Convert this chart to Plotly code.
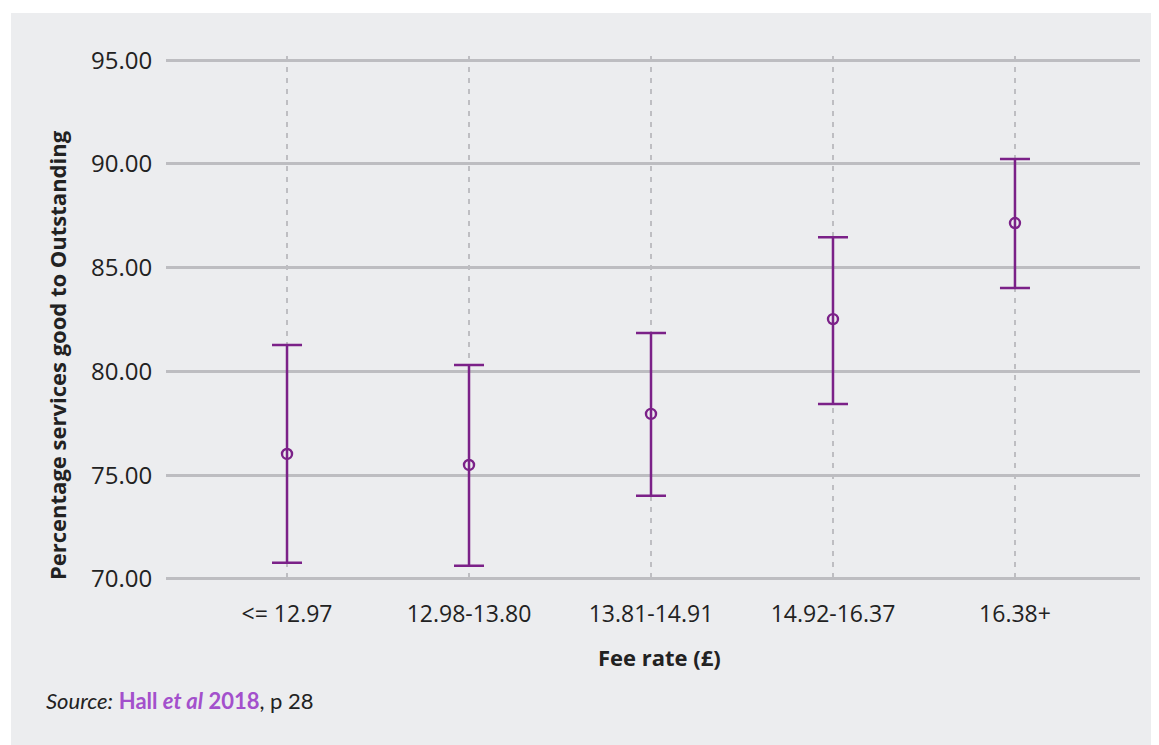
import plotly.graph_objects as go

categories = ["<= 12.97", "12.98-13.80", "13.81-14.91", "14.92-16.37", "16.38+"]
means = [76.02, 75.49, 77.95, 82.52, 87.15]
upper = [81.27, 80.31, 81.85, 86.47, 90.23]
lower = [70.77, 70.63, 74.00, 78.43, 84.02]
y_ticks = [70, 75, 80, 85, 90, 95]
y_ticklabels = ["70.00", "75.00", "80.00", "85.00", "90.00", "95.00"]

err_plus = [u - m for u, m in zip(upper, means)]
err_minus = [m - l for m, l in zip(means, lower)]

PURPLE = "#7B2188"
BG = "#ECEDEF"
OFF = 8  # page body margin
W, H = 1159 - OFF, 745 - OFF
L, R, T, B = 158, 19, 48, 162
pw, ph = W - L - R, H - T - B

fig = go.Figure()
fig.add_trace(go.Scatter(
    x=list(range(len(categories))), y=means, mode="markers",
    marker=dict(symbol="circle-open", size=10, color=PURPLE, line=dict(width=2.4, color=PURPLE)),
    error_y=dict(type="data", symmetric=False, array=err_plus, arrayminus=err_minus,
                 color=PURPLE, thickness=2.5, width=15),
    showlegend=False, hoverinfo="skip",
))

def px(x):
    return (x - OFF - L) / pw

def py(y):
    return (H - B - (y - OFF)) / ph

fig.add_shape(type="rect", xref="paper", yref="paper",
              x0=px(11), x1=px(1180), y0=py(13), y1=py(780),
              fillcolor=BG, line=dict(width=0), layer="below")

fig.update_layout(
    width=W, height=H,
    margin=dict(l=L, r=R, t=T, b=B),
    paper_bgcolor="white", plot_bgcolor=BG,
    font=dict(family="Open Sans", color="#222222"),
    xaxis=dict(
        range=[-0.665, 4.687],
        tickmode="array", tickvals=list(range(len(categories))), ticktext=categories,
        tickfont=dict(size=23, family="Open Sans", color="#222222"),
        showgrid=True, gridcolor="#BEBEC2", griddash="5px,6px", gridwidth=1.5,
        zeroline=False, showline=False,
        ticks="outside", ticklen=10, tickcolor="rgba(0,0,0,0)",
    ),
    yaxis=dict(
        range=[69.8, 95.2],
        tickmode="array", tickvals=y_ticks, ticktext=y_ticklabels,
        tickfont=dict(size=24, family="Open Sans", color="#222222"),
        showgrid=True, gridcolor="#BDBDC1", gridwidth=3,
        zeroline=False, showline=False,
        ticks="outside", ticklen=8, tickcolor="rgba(0,0,0,0)",
    ),
)

fig.add_annotation(
    text="<b>Percentage services good to Outstanding</b>",
    xref="paper", yref="paper", x=px(57), y=py(355),
    textangle=-90, showarrow=False, xanchor="center", yanchor="middle",
    font=dict(size=22, family="Open Sans", color="#222222"),
)
fig.add_annotation(
    text="<b>Fee rate (£)</b>",
    xref="paper", yref="paper", x=px(659), y=py(657),
    showarrow=False, xanchor="center", yanchor="middle",
    font=dict(size=22, family="Open Sans", color="#222222"),
)
fig.add_annotation(
    text="<i>Source:</i> <span style='color:#A350CC'><b>Hall <i>et al</i> 2018</b></span>, p 28",
    xref="paper", yref="paper", x=px(44), y=py(700),
    showarrow=False, xanchor="left", yanchor="middle",
    font=dict(size=22, family="Lato", color="#222222"),
)

fig.write_html("out.html")
